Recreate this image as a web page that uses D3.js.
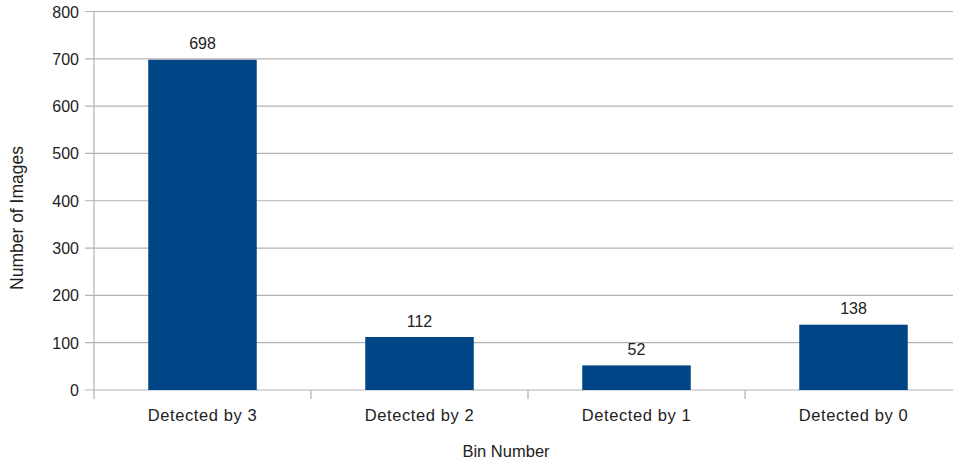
<!DOCTYPE html>
<html><head><meta charset="utf-8">
<script src="https://cdn.jsdelivr.net/npm/d3@7"></script>
<style>body{margin:0;background:#fff}svg{display:block}text{font-family:"Liberation Sans",Arial,sans-serif;fill:#222}</style>
</head><body><svg id="c" width="953" height="465"></svg>
<script>
const categories = ["Detected by 3","Detected by 2","Detected by 1","Detected by 0"];
const values = [698,112,52,138];
const yTicks = [0,100,200,300,400,500,600,700,800];

const svg = d3.select("#c");
const mLeft = 94, mRight = 962, mTop = 11.5, mBottom = 390;
const x = d3.scaleBand().domain(categories).range([mLeft,mRight]).paddingInner(0.5).paddingOuter(0.25);
const xb = d3.scaleBand().domain(categories).range([mLeft,mRight]);
const y = d3.scaleLinear().domain([0,800]).range([mBottom,mTop]);

svg.append("g").selectAll("line").data(yTicks).join("line")
  .attr("x1",85).attr("x2",953).attr("y1",d=>y(d)).attr("y2",d=>y(d))
  .attr("stroke","#b3b3b3").attr("stroke-width",1.2);
svg.append("line").attr("x1",mLeft).attr("x2",mLeft).attr("y1",mTop).attr("y2",mBottom+9)
  .attr("stroke","#b3b3b3").attr("stroke-width",1.2);
const bounds = categories.map(c=>xb(c)).concat([mRight]);
svg.append("g").selectAll("line").data(bounds.slice(1)).join("line")
  .attr("x1",d=>d).attr("x2",d=>d).attr("y1",mBottom).attr("y2",mBottom+9)
  .attr("stroke","#b3b3b3").attr("stroke-width",1.2);
svg.append("g").selectAll("text").data(yTicks).join("text")
  .attr("x",79).attr("y",d=>y(d)+6).attr("text-anchor","end").attr("font-size",16).text(d=>d);
svg.append("g").selectAll("rect").data(values).join("rect")
  .attr("x",(d,i)=>x(categories[i])).attr("width",x.bandwidth())
  .attr("y",d=>y(d)).attr("height",d=>mBottom-y(d)).attr("fill","#004586");
svg.append("g").selectAll("text").data(values).join("text")
  .attr("x",(d,i)=>x(categories[i])+x.bandwidth()/2).attr("y",d=>y(d)-10.5)
  .attr("text-anchor","middle").attr("font-size",16).text(d=>d);
svg.append("g").selectAll("text").data(categories).join("text")
  .attr("x",d=>xb(d)+xb.bandwidth()/2).attr("y",421)
  .attr("text-anchor","middle").attr("font-size",16.5).attr("letter-spacing",0.6).text(d=>d);
svg.append("text").attr("x",506).attr("y",457).attr("text-anchor","middle").attr("font-size",16.5).text("Bin Number");
svg.append("text").attr("transform","translate(23,218) rotate(-90)").attr("text-anchor","middle").attr("font-size",17.5).text("Number of Images");
</script></body></html>
